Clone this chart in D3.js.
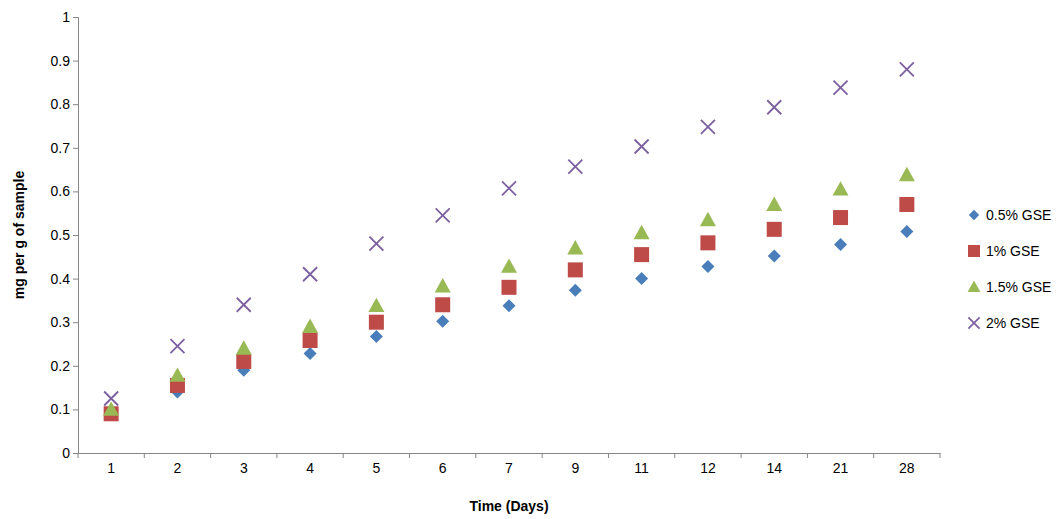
<!DOCTYPE html><html><head><script src="https://cdn.jsdelivr.net/npm/d3@7"></script>
<style>body{margin:0;background:#fff}text{font-family:"Liberation Sans",Arial,sans-serif}</style></head><body><svg id="c" width="1062" height="519"></svg><script>
const categories=["1","2","3","4","5","6","7","9","11","12","14","21","28"];
const s05=[0.095,0.14,0.19,0.228,0.267,0.302,0.338,0.373,0.40,0.428,0.452,0.478,0.508];
const s1=[0.09,0.155,0.21,0.258,0.30,0.34,0.38,0.42,0.455,0.482,0.513,0.54,0.57];
const s15=[0.10,0.178,0.24,0.29,0.338,0.383,0.428,0.47,0.505,0.535,0.57,0.605,0.638];
const s2=[0.125,0.245,0.34,0.41,0.48,0.545,0.607,0.657,0.703,0.748,0.793,0.838,0.88];
const yTicks=[0,0.1,0.2,0.3,0.4,0.5,0.6,0.7,0.8,0.9,1];
const series=[{n:"0.5% GSE",v:s05,c:"#4a7ebb",s:"diamond"},{n:"1% GSE",v:s1,c:"#be4b48",s:"square"},{n:"1.5% GSE",v:s15,c:"#98b954",s:"triangle"},{n:"2% GSE",v:s2,c:"#7d60a0",s:"x"}];
const svg=d3.select("#c");
const x=d3.scaleBand().domain(categories).range([78,940]);
const y=d3.scaleLinear().domain([0,1]).range([453,17]);
const ya=svg.append("g").attr("transform","translate(78,0)").call(d3.axisLeft(y).tickValues(yTicks).tickFormat(d3.format("")).tickSize(5));
const xa=svg.append("g").attr("transform","translate(0,453)").call(d3.axisBottom(x).tickSize(0).tickPadding(10));
svg.append("g").attr("transform","translate(0,453)").selectAll("line").data(categories.concat(["end"])).join("line")
 .attr("x1",(d,i)=>78+i*x.step()).attr("x2",(d,i)=>78+i*x.step()).attr("y1",0).attr("y2",5).attr("stroke","#868686");
[ya,xa].forEach(a=>{a.selectAll("path,line").attr("stroke","#868686");a.selectAll("text").attr("font-size",14).attr("fill","#000");});
function sym(g,s,c,k){
 k=k||1;
 if(s==="x"){const r=7*k;g.append("path").attr("d",`M${-r},${-r}L${r},${r}M${-r},${r}L${r},${-r}`).attr("stroke",c).attr("stroke-width",1.8).attr("fill","none");}
 else if(s==="diamond"){const r=6.5*k;g.append("path").attr("d",`M0,${-r}L${r},0L0,${r}L${-r},0Z`).attr("fill",c);}
 else if(s==="square"){const r=7.5*k;g.append("rect").attr("x",-r).attr("y",-r).attr("width",2*r).attr("height",2*r).attr("fill",c);}
 else{const r=8*k;g.append("path").attr("d",`M0,${-r}L${r},${r*0.8}L${-r},${r*0.8}Z`).attr("fill",c);}
}
series.forEach((se,k)=>{
 se.v.forEach((v,i)=>{const g=svg.append("g").attr("transform",`translate(${x(categories[i])+x.bandwidth()/2},${y(v)})`);sym(g,se.s,se.c);});
 const ly=215+k*36;
 sym(svg.append("g").attr("transform",`translate(974,${ly})`),se.s,se.c,0.8);
 svg.append("text").attr("x",986).attr("y",ly+5).attr("font-size",14).text(se.n);
});
svg.append("text").attr("x",509).attr("y",511).attr("text-anchor","middle").attr("font-size",14).attr("font-weight","bold").text("Time (Days)");
svg.append("text").attr("transform","translate(24,235)rotate(-90)").attr("text-anchor","middle").attr("font-size",14).attr("font-weight","bold").text("mg per g of sample");
</script></body></html>
